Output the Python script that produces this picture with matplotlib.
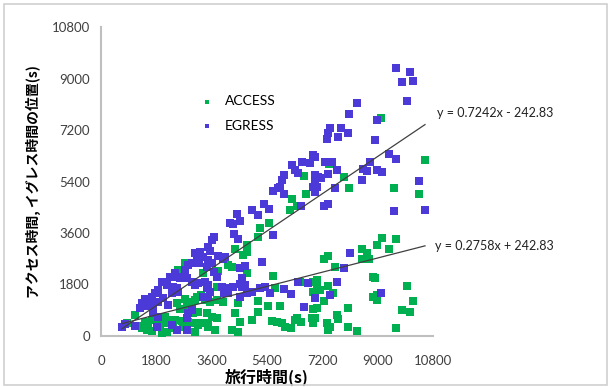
import numpy as np
import matplotlib
matplotlib.use("Agg")
import matplotlib.pyplot as plt
from matplotlib.patches import Rectangle

# EGRESS (purple) points: travel time (s), time position (s)
egress_x = [9596, 10052, 9792, 10149, 9954, 8978, 8913, 9369, 9596, 8978, 9141, 10345, 9531, 10540, 9108,
            8328, 8067, 7807, 7449, 7384, 7352, 7710, 8035, 7287, 7514, 6961, 8751, 7677, 7384, 6961,
            7059, 7157, 6961, 7026, 6961, 8523, 8653, 8490, 7612, 7254, 7384, 8100, 7905, 7677, 7449,
            6961, 6896, 6539, 6799, 6213, 6311, 6408, 5953, 5888, 5823, 5595, 5758, 5953, 6896, 4912,
            5107, 5302, 5465, 6506, 5595, 5237, 4684, 4684, 4749, 4912, 5172, 5335, 5498, 5953, 6181,
            6408, 6734, 6604, 4424, 4196, 4294, 4522, 3676, 3611, 4326, 4457, 3481, 3546, 3058, 3220,
            3318, 3123, 3188, 2960, 2830, 3806, 3969, 4034, 3481, 3611, 3448, 3676, 3773, 2733, 2407,
            2472, 2570, 2798, 2960, 3058, 3155, 3383, 3481, 3448, 3318, 3481, 3546, 2472, 2505, 4522,
            4587, 4522, 3936, 4131, 4294, 4587, 4001, 2830, 2798, 2960, 2472, 2798, 4131, 4522, 2245,
            1984, 2147, 1854, 1757, 1659, 1529, 1431, 1334, 1269, 1496, 1594, 1692, 1854, 2017, 2310,
            2342, 2180, 1692, 1854, 1106, 683, 781, 1822, 2310]
egress_y = [9367, 9227, 8877, 8912, 8213, 7549, 6850, 6361, 6186, 5802, 5732, 5417, 4369, 4404, 1503,
            8143, 7759, 7270, 7270, 7095, 6885, 6955, 7095, 6081, 6081, 6256, 6081, 5802, 5662, 5627,
            5557, 5522, 5382, 5208, 5033, 5837, 5767, 5452, 5173, 4544, 4613, 2901, 2377, 1887, 1433,
            1328, 6326, 6081, 6046, 5976, 5802, 5697, 5627, 5452, 5208, 5068, 5173, 4963, 5208, 4404,
            4229, 4613, 4439, 4544, 3530, 2586, 2447, 1782, 1503, 1538, 1678, 1713, 1503, 1643, 1468,
            1887, 1852, 1014, 4264, 3949, 3914, 4019, 3460, 3355, 3565, 3390, 3111, 2971, 2901, 2936,
            2761, 2726, 2551, 2551, 2481, 2796, 2691, 2761, 2656, 2551, 2412, 2237, 2062, 2307, 2202,
            2062, 2027, 2027, 1887, 1782, 1852, 1887, 1782, 1678, 1363, 1363, 1538, 1678, 1538, 2377,
            2027, 1817, 1713, 1678, 1713, 1713, 1503, 804, 629, 909, 210, 210, 1503, 1363, 2062,
            1887, 1782, 1608, 1503, 1363, 1258, 1293, 1153, 979, 1049, 1118, 1049, 1188, 1328, 1503,
            1713, 1083, 804, 664, 350, 315, 419, 315, 384]

# ACCESS (green) points
access_x = [9108, 10540, 9531, 10345, 9141, 9596, 8978, 9369, 8913, 9954, 8978, 8978, 10149, 9792, 10052,
            9596, 7417, 7905, 8067, 8490, 8653, 8490, 8718, 7384, 7254, 7612, 8848, 7026, 7026, 7124,
            7384, 7547, 7254, 8848, 7026, 8035, 6961, 7352, 7449, 7384, 7677, 7710, 8035, 8328, 6604,
            6213, 6669, 6376, 6148, 5465, 5172, 5107, 4749, 4749, 4749, 5595, 5660, 6473, 6896, 6896,
            5107, 5433, 5107, 5823, 6896, 4912, 5563, 5725, 5888, 5986, 6181, 6311, 6376, 6506, 6864,
            6896, 4359, 4619, 4131, 4261, 3806, 3318, 2733, 2505, 3773, 3123, 3253, 3058, 2733, 2960,
            2472, 3383, 3546, 3773, 3969, 4457, 2798, 2570, 2993, 3155, 3448, 3611, 3773, 4359, 2407,
            2635, 2830, 3058, 3155, 3318, 3481, 3481, 3708, 4522, 3058, 4261, 4457, 2667, 1106, 1431,
            1366, 1529, 1334, 1659, 1854, 1919, 2082, 2147, 2310, 846, 1496, 1659, 1984, 2147, 2342]
access_y = [7619, 6151, 5173, 4963, 3425, 3390, 3180, 3041, 2027, 1748, 1433, 1258, 1223, 909, 839,
            280, 6011, 5557, 5173, 3041, 2901, 2691, 2691, 2796, 2691, 2412, 2062, 1957, 1678, 1608,
            1748, 1503, 1223, 1363, 979, 979, 629, 454, 315, 210, 734, 594, 315, 175, 5592,
            4788, 4963, 4544, 4404, 3949, 3775, 3460, 3180, 2936, 2202, 2097, 1678, 1887, 1887, 1538,
            1223, 1049, 839, 1049, 944, 559, 524, 489, 454, 315, 280, 559, 629, 489, 629,
            454, 3041, 2831, 2481, 2412, 2272, 2202, 2551, 2307, 1713, 1363, 1433, 1258, 1293, 1188,
            1153, 1258, 1188, 1258, 1188, 1153, 1014, 944, 804, 839, 804, 664, 629, 804, 559,
            524, 489, 454, 384, 454, 454, 315, 210, 489, 140, 210, 140, 315, 734, 489,
            350, 315, 280, 559, 524, 384, 664, 454, 559, 454, 210, 175, 105, 140, 280]

# trendlines shown in the chart
upper_fit = (0.7242, -242.83)
lower_fit = (0.2758, 242.83)
upper_label = "y = 0.7242x - 242.83"
lower_label = "y = 0.2758x + 242.83"

ticks = [0, 1800, 3600, 5400, 7200, 9000, 10800]

green = "#00B050"
purple = "#4B3AD8"
jp = ["Noto Sans CJK JP", "DejaVu Sans"]

fig = plt.figure(figsize=(6.12, 3.87), dpi=100)
fig.patches.append(Rectangle((0.006, 0.006), 0.986, 0.984, transform=fig.transFigure,
                             fill=False, edgecolor="#d0d0d0", lw=1.2))
ax = fig.add_axes([0.165, 0.132, 0.5425, 0.798])

ax.scatter(access_x, access_y, marker="s", s=32, color=green, linewidths=0, label="ACCESS", zorder=3)
ax.scatter(egress_x, egress_y, marker="s", s=32, color=purple, linewidths=0, label="EGRESS", zorder=3)

allx = np.array(access_x + egress_x)
xs = np.array([allx.min(), allx.max()])
for a, b in (upper_fit, lower_fit):
    ax.plot(xs, a * xs + b, color="#404040", lw=0.9, zorder=4)

ax.text(10930, 7794, upper_label, fontsize=9, family="Lato", color="#222222",
        va="center", ha="left", clip_on=False)
ax.text(10865, 3146, lower_label, fontsize=9, family="Lato", color="#222222",
        va="center", ha="left", clip_on=False)

ax.set_xlim(0, 10800)
ax.set_ylim(0, 10800)
ax.set_xticks(ticks)
ax.set_yticks(ticks)
ax.tick_params(length=0, labelsize=9.5, colors="#404040", pad=8)
ax.tick_params(axis="x", pad=14)
for lab in ax.get_xticklabels() + ax.get_yticklabels():
    lab.set_family("Lato")
for side in ("top", "right"):
    ax.spines[side].set_visible(False)
for side in ("left", "bottom"):
    ax.spines[side].set_color("#bfbfbf")
    ax.spines[side].set_linewidth(1.5)

ax.set_xlabel("旅行時間(s)", family=jp, fontsize=11.5, fontweight="bold", labelpad=1)
ax.set_ylabel("アクセス時間, イグレス時間の位置(s)", family=jp, fontsize=10,
              fontweight="bold", labelpad=8)

leg = ax.legend(loc="upper left", bbox_to_anchor=(0.24, 0.82), frameon=False,
                markerscale=0.55, handletextpad=0.3, labelspacing=0.9,
                prop={"family": "Lato", "size": 10})

fig.savefig("out.png", dpi=100)
